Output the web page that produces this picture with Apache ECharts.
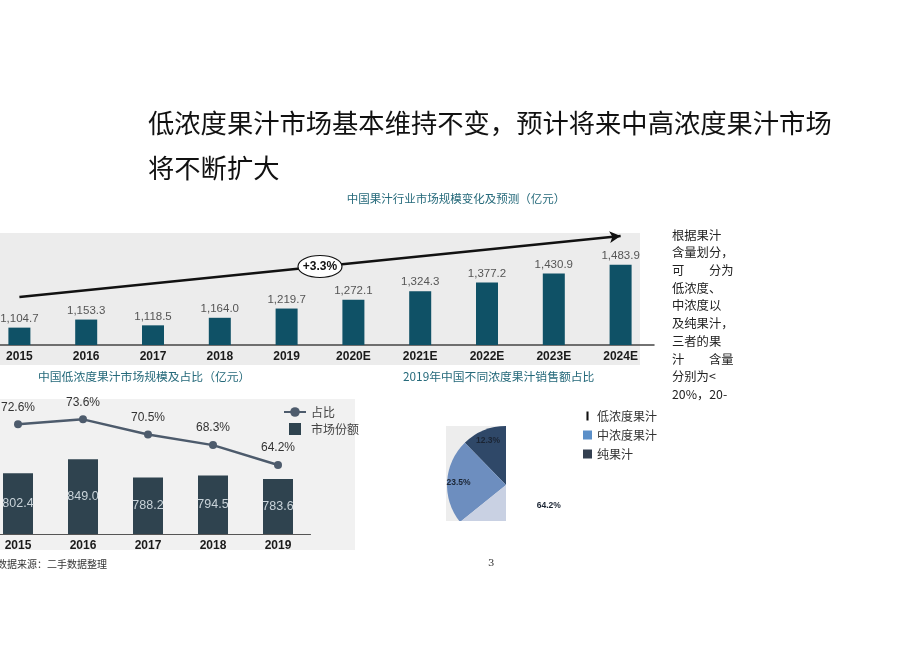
<!DOCTYPE html>
<html><head><meta charset="utf-8">
<script src="https://cdn.jsdelivr.net/npm/echarts@6/dist/echarts.min.js"></script>
<style>html,body{margin:0;padding:0;background:#fff}#c{width:920px;height:651px}</style>
</head><body><div id="c"></div>
<script>
const years = ['2015','2016','2017','2018','2019','2020E','2021E','2022E','2023E','2024E'];
const marketSize = [1104.7,1153.3,1118.5,1164.0,1219.7,1272.1,1324.3,1377.2,1430.9,1483.9];
const cagrLabel = '+3.3%';
const trendStart = 1289, trendEnd = 1657;
const lowYears = ['2015','2016','2017','2018','2019'];
const lowSize = [802.4,849.0,788.2,794.5,783.6];
const lowShare = [72.6,73.6,70.5,68.3,64.2];
const pieNames = ['纯果汁','中浓度果汁','低浓度果汁'];
const pieValues = [12.3,23.5,64.2];
const pieColors = ['#2f4868','#6d8ebf','#c9d1e3'];
const heading = ['低浓度果汁市场基本维持不变，预计将来中高浓度果汁市场','将不断扩大'];
const sideText = ['根据果汁','含量划分，','可　　分为','低浓度、','中浓度以','及纯果汁，','三者的果','汁　　含量','分别为<','20%，20-'];

const CJK = '"Noto Sans CJK SC", sans-serif';
const chart = echarts.init(document.getElementById('c'));
const fmt = v => v.toLocaleString('en-US',{minimumFractionDigits:1, maximumFractionDigits:1});

const g = [];
g.push({id:'bg1', type:'rect', z:-10, silent:true, shape:{x:0,y:233,width:640,height:132}, style:{fill:'#ececec'}});
g.push({id:'bg2', type:'rect', z:-10, silent:true, shape:{x:0,y:399,width:355,height:151}, style:{fill:'#f1f1f1'}});
g.push({id:'bg3', type:'rect', z:-10, silent:true, shape:{x:446,y:426,width:60,height:95}, style:{fill:'#ededed'}});
g.push({id:'m1', type:'rect', z:5, silent:true, shape:{x:506,y:420,width:70,height:130}, style:{fill:'#ffffff'}});
g.push({id:'m2', type:'rect', z:5, silent:true, shape:{x:436,y:521,width:72,height:30}, style:{fill:'#ffffff'}});
heading.forEach((t,i)=>g.push({id:'h'+i, type:'text', x:148, y:123+i*45, style:{text:t, fill:'#111', font:'normal 26.3px '+CJK, verticalAlign:'middle'}}));
g.push({id:'t1', type:'text', x:456, y:199, style:{text:'中国果汁行业市场规模变化及预测（亿元）', fill:'#24697a', font:'normal 11.5px '+CJK, align:'center', verticalAlign:'middle'}});
g.push({id:'t2', type:'text', x:38, y:377, style:{text:'中国低浓度果汁市场规模及占比（亿元）', fill:'#24697a', font:'normal 11.8px '+CJK, verticalAlign:'middle'}});
g.push({id:'t3', type:'text', x:403, y:377, style:{text:'2019年中国不同浓度果汁销售额占比', fill:'#24697a', font:'normal 11.8px '+CJK, verticalAlign:'middle'}});
sideText.forEach((t,i)=>g.push({id:'s'+i, type:'text', x:672, y:235+i*17.7, style:{text:t, fill:'#222', font:'normal 12.3px '+CJK, verticalAlign:'middle'}}));
g.push({id:'f1', type:'text', x:-3, y:564, style:{text:'数据来源：二手数据整理', fill:'#333', font:'normal 10px '+CJK, verticalAlign:'middle'}});
g.push({id:'f2', type:'text', x:488, y:563, style:{text:'3', fill:'#333', font:'normal 10px "DejaVu Serif", serif', verticalAlign:'middle'}});

const option = {
  animation:false,
  graphic: g,
  grid:[
    {left:-14, top:233, width:668, height:112, outerBoundsMode:'none', containLabel:false},
    {left:-14.5, top:398, width:325, height:136, outerBoundsMode:'none', containLabel:false}
  ],
  xAxis:[
    {type:'category', gridIndex:0, data:years, axisTick:{show:false},
     axisLine:{lineStyle:{color:'#444', width:1.5}},
     axisLabel:{color:'#1a1a1a', fontSize:12, fontWeight:'bold', margin:6, fontFamily:'"Liberation Sans Narrow","Liberation Sans",sans-serif'}},
    {type:'category', gridIndex:1, data:lowYears, axisTick:{show:false},
     axisLine:{lineStyle:{color:'#555', width:1.2}},
     axisLabel:{color:'#1a1a1a', fontSize:12, fontWeight:'bold', margin:6, fontFamily:'"Liberation Sans",sans-serif'}}
  ],
  yAxis:[
    {type:'value', gridIndex:0, min:1000, max:1675, show:false},
    {type:'value', gridIndex:1, min:600, max:1053, show:false},
    {type:'value', gridIndex:1, min:50, max:78, show:false}
  ],
  legend:[
    {left:283, top:406, orient:'vertical', itemGap:5, itemWidth:22, itemHeight:12, padding:0,
     textStyle:{fontSize:12, color:'#444', fontFamily:CJK},
     data:[{name:'占比'},{name:'市场份额', icon:'path://M0,0h10v10h-10z'}]},
    {left:583, top:410, orient:'vertical', itemGap:7, itemWidth:9, itemHeight:9, padding:0,
     textStyle:{fontSize:12, color:'#333', fontFamily:CJK},
     data:[{name:'低浓度果汁', icon:'path://M0,0h3v13h-3z', itemStyle:{color:'#111'}},
           {name:'中浓度果汁', icon:'rect', itemStyle:{color:'#5b8fc8'}},
           {name:'纯果汁', icon:'rect', itemStyle:{color:'#333f50'}}]}
  ],
  series:[
    {type:'bar', xAxisIndex:0, yAxisIndex:0, data:marketSize, barWidth:22,
     itemStyle:{color:'#0f5166'},
     label:{show:true, position:'top', distance:3, color:'#555', fontSize:11.5,
            fontFamily:'"Liberation Sans Narrow","Liberation Sans",sans-serif', formatter:p=>fmt(p.value)},
     markLine:{silent:true, symbol:['none','arrow'], symbolSize:[9,11], label:{show:false},
       lineStyle:{color:'#111', width:2.5, type:'solid'},
       data:[[{coord:[0,trendStart]},{coord:[years.length-1,trendEnd]}]]}},
    {type:'bar', name:'市场份额', xAxisIndex:1, yAxisIndex:1, data:lowSize, barWidth:30,
     itemStyle:{color:'#2f434f'},
     label:{show:true, position:'inside', color:'#c9d3d9', fontSize:12.5, fontFamily:'"Liberation Sans",sans-serif', formatter:p=>p.value.toFixed(1)}},
    {type:'line', name:'占比', xAxisIndex:1, yAxisIndex:2, data:lowShare,
     lineStyle:{color:'#4d5b6c', width:2.5}, itemStyle:{color:'#4d5b6c'},
     symbol:'circle', symbolSize:8,
     label:{show:true, position:'top', distance:7, color:'#333', fontSize:12, fontFamily:'"Liberation Sans",sans-serif', formatter:p=>p.value.toFixed(1)+'%'}},
    {type:'pie', center:[506,485], radius:59, startAngle:90, clockwise:false, z:2, silent:true,
     label:{show:false}, labelLine:{show:false},
     data:pieNames.map((n,i)=>({name:n, value:pieValues[i], itemStyle:{color:pieColors[i]}}))},
    {type:'pie', center:[506,485], radius:[30,59], startAngle:90, clockwise:false, z:10, silent:true,
     itemStyle:{color:'rgba(0,0,0,0)'}, labelLine:{show:false},
     label:{show:true, position:'inside', color:'#1b2534', fontSize:8.5, fontWeight:'bold', formatter:p=>p.value.toFixed(1)+'%'},
     data:pieNames.map((n,i)=>({name:n, value:pieValues[i]}))}
  ]
};
chart.setOption(option);
const a = chart.convertToPixel({gridIndex:0}, [0, trendStart]);
const b = chart.convertToPixel({gridIndex:0}, [years.length-1, trendEnd]);
const mx = (a[0]+b[0])/2, my = (a[1]+b[1])/2;
chart.setOption({graphic:[
  {id:'ell', type:'ellipse', z:20, shape:{cx:mx, cy:my, rx:22, ry:11}, style:{fill:'#fff', stroke:'#111', lineWidth:1.2}},
  {id:'ellt', type:'text', z:21, x:mx, y:my, style:{text:cagrLabel, fill:'#111', font:'bold 12px "Liberation Sans",sans-serif', align:'center', verticalAlign:'middle'}}
]});
</script></body></html>
